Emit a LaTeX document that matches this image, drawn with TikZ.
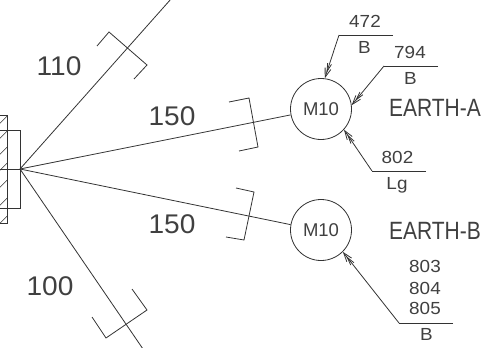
\documentclass[tikz,border=0pt]{standalone}
\usepackage{fontspec}
\setmainfont{Liberation Sans}
\usetikzlibrary{positioning,arrows.meta}
\tikzset{
line/.style={draw=black!80, line width=0.8pt},
lead/.style={line, -{Straight Barb[length=8pt,width=4pt,sep=-5pt]Straight Barb[length=9pt,width=6pt]}},
bolt/.style={circle, line, minimum size=61pt, inner sep=0pt, text=black!75, font=\fontsize{18.5}{18.5}\selectfont},
dim/.style={font=\fontsize{27}{27}\selectfont, text=black!75, inner sep=0pt, xscale=1.04},
num/.style={font=\fontsize{17.5}{17.5}\selectfont, text=black!75, inner sep=0pt, xscale=1.08},
earth/.style={font=\fontsize{25}{25}\selectfont, text=black!75, inner sep=0pt, xscale=.84}
}
\begin{document}
\begin{tikzpicture}[x=1pt,y=-1pt]
\useasboundingbox (0,0) rectangle (493,348);
% wall and plate
\draw[line] (0,115) -- (7.3,115) -- (7.3,223) -- (0,223);
\foreach \y in {116,131,147,163,180,198,216}
  \draw[line, line width=.6pt] (7.3,\y) -- (0,\y+7.3);
\draw[line] (0,130) -- (20,130) -- (20,208) -- (0,208);
\coordinate (hub) at (20,169);
\coordinate (wall) at (0,169);
\draw[line] (wall) -- (hub);
% bolts
\node[bolt] (m10a) at (321,109) {M10};
\node[bolt] (m10b) at (321,230) {M10};
\coordinate (topend) at (171,-1);
\coordinate (botend) at (143,349);
\draw[line] (hub) -- (topend);
\draw[line] (hub) -- (botend);
\draw[line] (hub) -- (m10a.191);
\draw[line] (hub) -- (m10b.170);
% section marks
\draw[line] (97,46) -- (109,32) -- (147,65) -- (134,79);
\draw[line] (229,102) -- (249,98) -- (258,147) -- (239,151);
\draw[line] (236,188) -- (254,192) -- (244,240) -- (226,237);
\draw[line] (132,289) -- (147,310) -- (106,338) -- (92,317);
% dimensions
\node[dim] (d110) at (59,66.5) {110};
\node[dim] (d150a) at (172,116.5) {150};
\node[dim] (d150b) at (172,224.5) {150};
\node[dim] (d100) at (50,286.5) {100};
% leaders
\coordinate (e472) at (339,35);
\coordinate (r472) at (393,35);
\coordinate (e794) at (384,66);
\coordinate (r794) at (438,66);
\coordinate (e802) at (372,171);
\coordinate (r802) at (426,171);
\coordinate (e803) at (399,323);
\coordinate (r803) at (453,323);
\draw[line] (r472) -- (e472);
\draw[lead] (e472) -- (m10a.83);
\draw[line] (r794) -- (e794);
\draw[lead] (e794) -- (m10a.7);
\draw[line] (r802) -- (e802);
\draw[lead] (e802) -- (m10a.-42);
\draw[line] (r803) -- (e803);
\draw[lead] (e803) -- (m10b.-45);
% labels
\node[num] (t472) at (365,21) {472};
\node[num] (b472) at (364.5,47.5) {B};
\node[num] (t794) at (410,52) {794};
\node[num] (b794) at (410.5,78.5) {B};
\node[num] (t802) at (397.5,157) {802};
\node[num] (lg) at (397,185) {Lg};
\node[num] (t803) at (425,266.5) {803};
\node[num] (t804) at (425,288.5) {804};
\node[num] (t805) at (425,308.5) {805};
\node[num] (b803) at (426.5,334) {B};
\node[earth] (ea) at (435,108) {EARTH-A};
\node[earth] (eb) at (435,230.5) {EARTH-B};
\end{tikzpicture}
\end{document}
